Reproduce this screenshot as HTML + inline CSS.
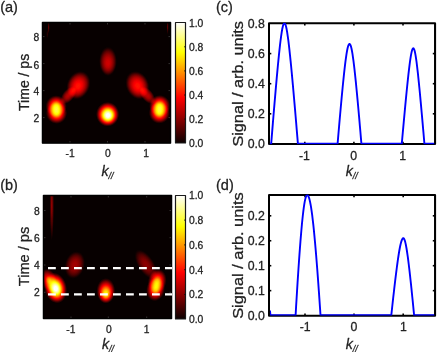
<!DOCTYPE html>
<html><head><meta charset="utf-8"><title>figure</title>
<style>html,body{margin:0;padding:0;background:#fff;overflow:hidden}svg{display:block;will-change:transform}text{stroke:#222;stroke-width:0.28px}</style></head>
<body>
<svg width="437" height="352" viewBox="0 0 437 352" font-family='"Liberation Sans", Arial, sans-serif' stroke-linejoin="round">
<rect width="437" height="352" fill="#fff"/>
<defs>
<filter id='hot' x='0' y='0' width='100%' height='100%' filterUnits='objectBoundingBox' color-interpolation-filters='sRGB'>
<feComponentTransfer>
<feFuncR type='table' tableValues='0 0.3333 0.6667 1 1 1 1 1 1'/>
<feFuncG type='table' tableValues='0 0 0 0 0.3333 0.6667 1 1 1'/>
<feFuncB type='table' tableValues='0 0 0 0 0 0 0 0.5 1'/>
</feComponentTransfer></filter>
<linearGradient id='cb' x1='0' y1='1' x2='0' y2='0'>
<stop offset='0' stop-color='#0a0000'/><stop offset='0.375' stop-color='#ff0000'/><stop offset='0.75' stop-color='#ffff00'/><stop offset='1' stop-color='#ffffff'/></linearGradient>
<radialGradient id='g1' cx='0' cy='0' fx='0.04' fy='0.12' r='1.06' gradientUnits='userSpaceOnUse'><stop offset='0.000' stop-color='#fff' stop-opacity='1.0000'/><stop offset='0.142' stop-color='#fff' stop-opacity='1.0000'/><stop offset='0.283' stop-color='#fff' stop-opacity='0.8858'/><stop offset='0.425' stop-color='#fff' stop-opacity='0.7107'/><stop offset='0.566' stop-color='#fff' stop-opacity='0.5150'/><stop offset='0.755' stop-color='#fff' stop-opacity='0.2678'/><stop offset='0.901' stop-color='#fff' stop-opacity='0.0824'/><stop offset='1.000' stop-color='#fff' stop-opacity='0.0000'/></radialGradient>
<radialGradient id='g2' cx='0' cy='0' fx='0' fy='0' r='1.06' gradientUnits='userSpaceOnUse'><stop offset='0.000' stop-color='#fff' stop-opacity='0.6800'/><stop offset='0.142' stop-color='#fff' stop-opacity='0.6664'/><stop offset='0.283' stop-color='#fff' stop-opacity='0.5848'/><stop offset='0.425' stop-color='#fff' stop-opacity='0.4692'/><stop offset='0.566' stop-color='#fff' stop-opacity='0.3400'/><stop offset='0.755' stop-color='#fff' stop-opacity='0.1768'/><stop offset='0.901' stop-color='#fff' stop-opacity='0.0544'/><stop offset='1.000' stop-color='#fff' stop-opacity='0.0000'/></radialGradient>
<radialGradient id='g3' cx='0' cy='0' fx='0' fy='0' r='1.06' gradientUnits='userSpaceOnUse'><stop offset='0.000' stop-color='#fff' stop-opacity='0.6800'/><stop offset='0.142' stop-color='#fff' stop-opacity='0.6664'/><stop offset='0.283' stop-color='#fff' stop-opacity='0.5848'/><stop offset='0.425' stop-color='#fff' stop-opacity='0.4692'/><stop offset='0.566' stop-color='#fff' stop-opacity='0.3400'/><stop offset='0.755' stop-color='#fff' stop-opacity='0.1768'/><stop offset='0.901' stop-color='#fff' stop-opacity='0.0544'/><stop offset='1.000' stop-color='#fff' stop-opacity='0.0000'/></radialGradient>
<radialGradient id='g4' cx='0' cy='0' fx='0' fy='0' r='1.06' gradientUnits='userSpaceOnUse'><stop offset='0.000' stop-color='#fff' stop-opacity='0.6800'/><stop offset='0.142' stop-color='#fff' stop-opacity='0.6664'/><stop offset='0.283' stop-color='#fff' stop-opacity='0.5848'/><stop offset='0.425' stop-color='#fff' stop-opacity='0.4692'/><stop offset='0.566' stop-color='#fff' stop-opacity='0.3400'/><stop offset='0.755' stop-color='#fff' stop-opacity='0.1768'/><stop offset='0.901' stop-color='#fff' stop-opacity='0.0544'/><stop offset='1.000' stop-color='#fff' stop-opacity='0.0000'/></radialGradient>
<radialGradient id='g5' cx='0' cy='0' fx='0' fy='0' r='1.06' gradientUnits='userSpaceOnUse'><stop offset='0.000' stop-color='#fff' stop-opacity='0.6800'/><stop offset='0.142' stop-color='#fff' stop-opacity='0.6664'/><stop offset='0.283' stop-color='#fff' stop-opacity='0.5848'/><stop offset='0.425' stop-color='#fff' stop-opacity='0.4692'/><stop offset='0.566' stop-color='#fff' stop-opacity='0.3400'/><stop offset='0.755' stop-color='#fff' stop-opacity='0.1768'/><stop offset='0.901' stop-color='#fff' stop-opacity='0.0544'/><stop offset='1.000' stop-color='#fff' stop-opacity='0.0000'/></radialGradient>
<radialGradient id='g6' cx='0' cy='0' fx='0' fy='0.08' r='1.06' gradientUnits='userSpaceOnUse'><stop offset='0.000' stop-color='#fff' stop-opacity='0.4000'/><stop offset='0.189' stop-color='#fff' stop-opacity='0.3840'/><stop offset='0.377' stop-color='#fff' stop-opacity='0.3360'/><stop offset='0.566' stop-color='#fff' stop-opacity='0.2560'/><stop offset='0.708' stop-color='#fff' stop-opacity='0.1760'/><stop offset='0.830' stop-color='#fff' stop-opacity='0.0920'/><stop offset='0.915' stop-color='#fff' stop-opacity='0.0320'/><stop offset='1.000' stop-color='#fff' stop-opacity='0.0000'/></radialGradient>
<radialGradient id='g7' cx='0' cy='0' fx='0' fy='0' r='1.06' gradientUnits='userSpaceOnUse'><stop offset='0.000' stop-color='#fff' stop-opacity='0.2700'/><stop offset='0.189' stop-color='#fff' stop-opacity='0.2592'/><stop offset='0.377' stop-color='#fff' stop-opacity='0.2268'/><stop offset='0.566' stop-color='#fff' stop-opacity='0.1728'/><stop offset='0.708' stop-color='#fff' stop-opacity='0.1188'/><stop offset='0.830' stop-color='#fff' stop-opacity='0.0621'/><stop offset='0.915' stop-color='#fff' stop-opacity='0.0216'/><stop offset='1.000' stop-color='#fff' stop-opacity='0.0000'/></radialGradient>
<radialGradient id='g8' cx='0' cy='0' fx='0' fy='0.08' r='1.06' gradientUnits='userSpaceOnUse'><stop offset='0.000' stop-color='#fff' stop-opacity='0.4000'/><stop offset='0.189' stop-color='#fff' stop-opacity='0.3840'/><stop offset='0.377' stop-color='#fff' stop-opacity='0.3360'/><stop offset='0.566' stop-color='#fff' stop-opacity='0.2560'/><stop offset='0.708' stop-color='#fff' stop-opacity='0.1760'/><stop offset='0.830' stop-color='#fff' stop-opacity='0.0920'/><stop offset='0.915' stop-color='#fff' stop-opacity='0.0320'/><stop offset='1.000' stop-color='#fff' stop-opacity='0.0000'/></radialGradient>
<radialGradient id='g9' cx='0' cy='0' fx='0' fy='0' r='1.06' gradientUnits='userSpaceOnUse'><stop offset='0.000' stop-color='#fff' stop-opacity='0.2700'/><stop offset='0.189' stop-color='#fff' stop-opacity='0.2592'/><stop offset='0.377' stop-color='#fff' stop-opacity='0.2268'/><stop offset='0.566' stop-color='#fff' stop-opacity='0.1728'/><stop offset='0.708' stop-color='#fff' stop-opacity='0.1188'/><stop offset='0.830' stop-color='#fff' stop-opacity='0.0621'/><stop offset='0.915' stop-color='#fff' stop-opacity='0.0216'/><stop offset='1.000' stop-color='#fff' stop-opacity='0.0000'/></radialGradient>
<radialGradient id='g10' cx='0' cy='0' fx='0' fy='0.15' r='1.06' gradientUnits='userSpaceOnUse'><stop offset='0.000' stop-color='#fff' stop-opacity='0.3000'/><stop offset='0.189' stop-color='#fff' stop-opacity='0.2880'/><stop offset='0.377' stop-color='#fff' stop-opacity='0.2520'/><stop offset='0.566' stop-color='#fff' stop-opacity='0.1920'/><stop offset='0.708' stop-color='#fff' stop-opacity='0.1320'/><stop offset='0.830' stop-color='#fff' stop-opacity='0.0690'/><stop offset='0.915' stop-color='#fff' stop-opacity='0.0240'/><stop offset='1.000' stop-color='#fff' stop-opacity='0.0000'/></radialGradient>
<radialGradient id='g11' cx='0' cy='0' fx='0' fy='0' r='1.06' gradientUnits='userSpaceOnUse'><stop offset='0.000' stop-color='#fff' stop-opacity='0.1500'/><stop offset='0.113' stop-color='#fff' stop-opacity='0.1477'/><stop offset='0.236' stop-color='#fff' stop-opacity='0.1290'/><stop offset='0.387' stop-color='#fff' stop-opacity='0.0960'/><stop offset='0.566' stop-color='#fff' stop-opacity='0.0683'/><stop offset='0.755' stop-color='#fff' stop-opacity='0.0367'/><stop offset='0.901' stop-color='#fff' stop-opacity='0.0120'/><stop offset='1.000' stop-color='#fff' stop-opacity='0.0000'/></radialGradient>
<radialGradient id='g12' cx='0' cy='0' fx='0' fy='0' r='1.06' gradientUnits='userSpaceOnUse'><stop offset='0.000' stop-color='#fff' stop-opacity='0.0700'/><stop offset='0.113' stop-color='#fff' stop-opacity='0.0690'/><stop offset='0.236' stop-color='#fff' stop-opacity='0.0602'/><stop offset='0.387' stop-color='#fff' stop-opacity='0.0448'/><stop offset='0.566' stop-color='#fff' stop-opacity='0.0319'/><stop offset='0.755' stop-color='#fff' stop-opacity='0.0172'/><stop offset='0.901' stop-color='#fff' stop-opacity='0.0056'/><stop offset='1.000' stop-color='#fff' stop-opacity='0.0000'/></radialGradient>
<radialGradient id='g13' cx='0' cy='0' fx='0' fy='0' r='1.06' gradientUnits='userSpaceOnUse'><stop offset='0.000' stop-color='#fff' stop-opacity='0.1300'/><stop offset='0.113' stop-color='#fff' stop-opacity='0.1280'/><stop offset='0.236' stop-color='#fff' stop-opacity='0.1118'/><stop offset='0.387' stop-color='#fff' stop-opacity='0.0832'/><stop offset='0.566' stop-color='#fff' stop-opacity='0.0592'/><stop offset='0.755' stop-color='#fff' stop-opacity='0.0319'/><stop offset='0.901' stop-color='#fff' stop-opacity='0.0104'/><stop offset='1.000' stop-color='#fff' stop-opacity='0.0000'/></radialGradient>
<radialGradient id='g14' cx='0' cy='0' fx='0' fy='0.05' r='1.06' gradientUnits='userSpaceOnUse'><stop offset='0.000' stop-color='#fff' stop-opacity='1.0000'/><stop offset='0.142' stop-color='#fff' stop-opacity='0.9996'/><stop offset='0.283' stop-color='#fff' stop-opacity='0.8772'/><stop offset='0.425' stop-color='#fff' stop-opacity='0.7038'/><stop offset='0.566' stop-color='#fff' stop-opacity='0.5100'/><stop offset='0.755' stop-color='#fff' stop-opacity='0.2652'/><stop offset='0.901' stop-color='#fff' stop-opacity='0.0816'/><stop offset='1.000' stop-color='#fff' stop-opacity='0.0000'/></radialGradient>
<radialGradient id='g15' cx='0' cy='0' fx='0' fy='0' r='1.06' gradientUnits='userSpaceOnUse'><stop offset='0.000' stop-color='#fff' stop-opacity='0.5000'/><stop offset='0.113' stop-color='#fff' stop-opacity='0.4925'/><stop offset='0.236' stop-color='#fff' stop-opacity='0.4300'/><stop offset='0.387' stop-color='#fff' stop-opacity='0.3200'/><stop offset='0.566' stop-color='#fff' stop-opacity='0.2275'/><stop offset='0.755' stop-color='#fff' stop-opacity='0.1225'/><stop offset='0.901' stop-color='#fff' stop-opacity='0.0400'/><stop offset='1.000' stop-color='#fff' stop-opacity='0.0000'/></radialGradient>
<radialGradient id='g16' cx='0' cy='0' fx='0' fy='0' r='1.06' gradientUnits='userSpaceOnUse'><stop offset='0.000' stop-color='#fff' stop-opacity='0.2350'/><stop offset='0.189' stop-color='#fff' stop-opacity='0.2256'/><stop offset='0.377' stop-color='#fff' stop-opacity='0.1974'/><stop offset='0.566' stop-color='#fff' stop-opacity='0.1504'/><stop offset='0.708' stop-color='#fff' stop-opacity='0.1034'/><stop offset='0.830' stop-color='#fff' stop-opacity='0.0541'/><stop offset='0.915' stop-color='#fff' stop-opacity='0.0188'/><stop offset='1.000' stop-color='#fff' stop-opacity='0.0000'/></radialGradient>
<radialGradient id='g17' cx='0' cy='0' fx='0' fy='0.28' r='1.06' gradientUnits='userSpaceOnUse'><stop offset='0.000' stop-color='#fff' stop-opacity='0.7400'/><stop offset='0.142' stop-color='#fff' stop-opacity='0.7252'/><stop offset='0.283' stop-color='#fff' stop-opacity='0.6364'/><stop offset='0.425' stop-color='#fff' stop-opacity='0.5106'/><stop offset='0.566' stop-color='#fff' stop-opacity='0.3700'/><stop offset='0.755' stop-color='#fff' stop-opacity='0.1924'/><stop offset='0.901' stop-color='#fff' stop-opacity='0.0592'/><stop offset='1.000' stop-color='#fff' stop-opacity='0.0000'/></radialGradient>
<radialGradient id='g18' cx='0' cy='0' fx='0' fy='0' r='1.06' gradientUnits='userSpaceOnUse'><stop offset='0.000' stop-color='#fff' stop-opacity='0.6000'/><stop offset='0.142' stop-color='#fff' stop-opacity='0.5880'/><stop offset='0.283' stop-color='#fff' stop-opacity='0.5160'/><stop offset='0.425' stop-color='#fff' stop-opacity='0.4140'/><stop offset='0.566' stop-color='#fff' stop-opacity='0.3000'/><stop offset='0.755' stop-color='#fff' stop-opacity='0.1560'/><stop offset='0.901' stop-color='#fff' stop-opacity='0.0480'/><stop offset='1.000' stop-color='#fff' stop-opacity='0.0000'/></radialGradient>
<radialGradient id='g19' cx='0' cy='0' fx='0' fy='0' r='1.06' gradientUnits='userSpaceOnUse'><stop offset='0.000' stop-color='#fff' stop-opacity='0.6200'/><stop offset='0.142' stop-color='#fff' stop-opacity='0.6076'/><stop offset='0.283' stop-color='#fff' stop-opacity='0.5332'/><stop offset='0.425' stop-color='#fff' stop-opacity='0.4278'/><stop offset='0.566' stop-color='#fff' stop-opacity='0.3100'/><stop offset='0.755' stop-color='#fff' stop-opacity='0.1612'/><stop offset='0.901' stop-color='#fff' stop-opacity='0.0496'/><stop offset='1.000' stop-color='#fff' stop-opacity='0.0000'/></radialGradient>
<radialGradient id='g20' cx='0' cy='0' fx='0' fy='0' r='1.06' gradientUnits='userSpaceOnUse'><stop offset='0.000' stop-color='#fff' stop-opacity='0.2000'/><stop offset='0.189' stop-color='#fff' stop-opacity='0.1920'/><stop offset='0.377' stop-color='#fff' stop-opacity='0.1680'/><stop offset='0.566' stop-color='#fff' stop-opacity='0.1280'/><stop offset='0.708' stop-color='#fff' stop-opacity='0.0880'/><stop offset='0.830' stop-color='#fff' stop-opacity='0.0460'/><stop offset='0.915' stop-color='#fff' stop-opacity='0.0160'/><stop offset='1.000' stop-color='#fff' stop-opacity='0.0000'/></radialGradient>
<radialGradient id='g21' cx='0' cy='0' fx='0' fy='0' r='1.06' gradientUnits='userSpaceOnUse'><stop offset='0.000' stop-color='#fff' stop-opacity='0.2100'/><stop offset='0.113' stop-color='#fff' stop-opacity='0.2068'/><stop offset='0.236' stop-color='#fff' stop-opacity='0.1806'/><stop offset='0.387' stop-color='#fff' stop-opacity='0.1344'/><stop offset='0.566' stop-color='#fff' stop-opacity='0.0955'/><stop offset='0.755' stop-color='#fff' stop-opacity='0.0514'/><stop offset='0.901' stop-color='#fff' stop-opacity='0.0168'/><stop offset='1.000' stop-color='#fff' stop-opacity='0.0000'/></radialGradient>
</defs>
<clipPath id='ca'><rect x='42' y='22' width='129' height='121.5'/></clipPath><g filter='url(#hot)' clip-path='url(#ca)'><rect x='42' y='22' width='129' height='121.5' fill='#030303'/><circle r='1.06' fill='url(#g1)' transform='translate(107.6 114.2) rotate(0) scale(10.9 11.6)'/><circle r='1.06' fill='url(#g2)' transform='translate(56.2 106.3) rotate(-3) scale(10 10.4)'/><circle r='1.06' fill='url(#g3)' transform='translate(56.5 112.9) rotate(-3) scale(10 10.4)'/><circle r='1.06' fill='url(#g4)' transform='translate(159.7 106) rotate(3) scale(10 10.4)'/><circle r='1.06' fill='url(#g5)' transform='translate(159.4 112.6) rotate(3) scale(10 10.4)'/><circle r='1.06' fill='url(#g6)' transform='translate(78.4 85.2) rotate(24) scale(10.8 13.8)'/><circle r='1.06' fill='url(#g7)' transform='translate(68.6 95.2) rotate(40) scale(5.6 10)'/><circle r='1.06' fill='url(#g8)' transform='translate(137.4 85.2) rotate(-24) scale(10.8 13.8)'/><circle r='1.06' fill='url(#g9)' transform='translate(147.2 95.2) rotate(-40) scale(5.6 10)'/><circle r='1.06' fill='url(#g10)' transform='translate(108 61.3) rotate(0) scale(8.4 13.8)'/><circle r='1.06' fill='url(#g11)' transform='translate(48.7 27.5) rotate(0) scale(1 6)'/><circle r='1.06' fill='url(#g12)' transform='translate(47.2 34) rotate(0) scale(0.9 4.5)'/><circle r='1.06' fill='url(#g13)' transform='translate(167.6 27) rotate(0) scale(1.1 7)'/></g><rect x='42.5' y='22.5' width='128' height='120.5' fill='none' stroke='#000' stroke-width='1.5'/>
<rect x='175.5' y='22.5' width='10' height='120.5' fill='url(#cb)' stroke='#1a1a1a' stroke-width='1.2'/>
<g stroke='#999' stroke-width='0.8' opacity='0.4'><line x1='70' y1='142.5' x2='70' y2='141'/><line x1='70' y1='23' x2='70' y2='24.5'/><line x1='107.5' y1='142.5' x2='107.5' y2='141'/><line x1='107.5' y1='23' x2='107.5' y2='24.5'/><line x1='145' y1='142.5' x2='145' y2='141'/><line x1='145' y1='23' x2='145' y2='24.5'/><line x1='43' y1='36.6' x2='44.5' y2='36.6'/><line x1='170' y1='36.6' x2='168.5' y2='36.6'/><line x1='43' y1='63.6' x2='44.5' y2='63.6'/><line x1='170' y1='63.6' x2='168.5' y2='63.6'/><line x1='43' y1='90.6' x2='44.5' y2='90.6'/><line x1='170' y1='90.6' x2='168.5' y2='90.6'/><line x1='43' y1='117.6' x2='44.5' y2='117.6'/><line x1='170' y1='117.6' x2='168.5' y2='117.6'/></g>
<text x='70.1' y='156.9' font-size='10.3' text-anchor='middle' fill='#222' >-1</text>
<text x='107.8' y='156.9' font-size='10.3' text-anchor='middle' fill='#222' >0</text>
<text x='146.1' y='156.9' font-size='10.3' text-anchor='middle' fill='#222' >1</text>
<text x='39.2' y='41.4' font-size='10.3' text-anchor='end' fill='#222' >8</text>
<text x='39.2' y='68.7' font-size='10.3' text-anchor='end' fill='#222' >6</text>
<text x='39.2' y='95.4' font-size='10.3' text-anchor='end' fill='#222' >4</text>
<text x='39.2' y='122.3' font-size='10.3' text-anchor='end' fill='#222' >2</text>
<text x='189' y='147.1' font-size='10.3' text-anchor='start' fill='#222' >0.0</text>
<text x='189' y='123' font-size='10.3' text-anchor='start' fill='#222' >0.2</text>
<line x1='184' x2='186' y1='119.1' y2='119.1' stroke='#111' stroke-width='0.8'/>
<text x='189' y='98.9' font-size='10.3' text-anchor='start' fill='#222' >0.4</text>
<line x1='184' x2='186' y1='95' y2='95' stroke='#111' stroke-width='0.8'/>
<text x='189' y='74.8' font-size='10.3' text-anchor='start' fill='#222' >0.6</text>
<line x1='184' x2='186' y1='70.9' y2='70.9' stroke='#111' stroke-width='0.8'/>
<text x='189' y='50.7' font-size='10.3' text-anchor='start' fill='#222' >0.8</text>
<line x1='184' x2='186' y1='46.8' y2='46.8' stroke='#111' stroke-width='0.8'/>
<text x='189' y='26.6' font-size='10.3' text-anchor='start' fill='#222' >1.0</text>
<text transform='translate(28.6 82.4) rotate(-90)' font-size='14' text-anchor='middle' fill='#222' >Time / ps</text>
<text x='107.5' y='176' font-size='14.2' font-style='italic' text-anchor='middle' fill='#222'>k<tspan font-size='9' dy='3.2'>//</tspan></text>
<text x='0.2' y='12.1' font-size='14.5' text-anchor='start' fill='#222' >(a)</text>
<clipPath id='cb2'><rect x='43' y='195' width='129' height='124'/></clipPath><g filter='url(#hot)' clip-path='url(#cb2)'><rect x='43' y='195' width='129' height='124' fill='#030303'/><circle r='1.06' fill='url(#g14)' transform='translate(55.6 288) rotate(-12) scale(10.6 14.6)'/><circle r='1.06' fill='url(#g15)' transform='translate(48.6 280) rotate(-18) scale(7.6 11)'/><circle r='1.06' fill='url(#g16)' transform='translate(74.8 265) rotate(15) scale(9.4 13.2)'/><circle r='1.06' fill='url(#g17)' transform='translate(105.9 290.8) rotate(0) scale(8.8 12)'/><circle r='1.06' fill='url(#g18)' transform='translate(157.2 281.4) rotate(12) scale(8.8 11.8)'/><circle r='1.06' fill='url(#g19)' transform='translate(155.6 289.2) rotate(12) scale(8.8 11.4)'/><circle r='1.06' fill='url(#g20)' transform='translate(146 264.5) rotate(-33) scale(7.6 16)'/><circle r='1.06' fill='url(#g21)' transform='translate(51.8 205) rotate(0) scale(2.1 34)'/></g><rect x='43.5' y='195.5' width='128' height='123' fill='none' stroke='#000' stroke-width='1.5'/>
<rect x='175.5' y='195.5' width='10' height='123.5' fill='url(#cb)' stroke='#1a1a1a' stroke-width='1.2'/>
<g stroke='#999' stroke-width='0.8' opacity='0.4'><line x1='71' y1='318' x2='71' y2='316.5'/><line x1='71' y1='196' x2='71' y2='197.5'/><line x1='108.3' y1='318' x2='108.3' y2='316.5'/><line x1='108.3' y1='196' x2='108.3' y2='197.5'/><line x1='146.7' y1='318' x2='146.7' y2='316.5'/><line x1='146.7' y1='196' x2='146.7' y2='197.5'/><line x1='44' y1='210.5' x2='45.5' y2='210.5'/><line x1='171' y1='210.5' x2='169.5' y2='210.5'/><line x1='44' y1='237.7' x2='45.5' y2='237.7'/><line x1='171' y1='237.7' x2='169.5' y2='237.7'/><line x1='44' y1='265' x2='45.5' y2='265'/><line x1='171' y1='265' x2='169.5' y2='265'/><line x1='44' y1='292.3' x2='45.5' y2='292.3'/><line x1='171' y1='292.3' x2='169.5' y2='292.3'/></g>
<line x1='48' x2='172' y1='268.2' y2='268.2' stroke='#fff' stroke-width='2.2' stroke-dasharray='7.8 5.2'/>
<line x1='48' x2='172' y1='294.4' y2='294.4' stroke='#fff' stroke-width='2.2' stroke-dasharray='7.8 5.2'/>
<text x='70.9' y='333' font-size='10.3' text-anchor='middle' fill='#222' >-1</text>
<text x='108.9' y='333' font-size='10.3' text-anchor='middle' fill='#222' >0</text>
<text x='146.7' y='333' font-size='10.3' text-anchor='middle' fill='#222' >1</text>
<text x='39.8' y='214.5' font-size='10.3' text-anchor='end' fill='#222' >8</text>
<text x='39.8' y='241.5' font-size='10.3' text-anchor='end' fill='#222' >6</text>
<text x='39.8' y='269' font-size='10.3' text-anchor='end' fill='#222' >4</text>
<text x='39.8' y='296.1' font-size='10.3' text-anchor='end' fill='#222' >2</text>
<text x='189' y='323.2' font-size='10.3' text-anchor='start' fill='#222' >0.0</text>
<text x='189' y='298.4' font-size='10.3' text-anchor='start' fill='#222' >0.2</text>
<line x1='184' x2='186' y1='294.5' y2='294.5' stroke='#111' stroke-width='0.8'/>
<text x='189' y='273.6' font-size='10.3' text-anchor='start' fill='#222' >0.4</text>
<line x1='184' x2='186' y1='269.7' y2='269.7' stroke='#111' stroke-width='0.8'/>
<text x='189' y='248.8' font-size='10.3' text-anchor='start' fill='#222' >0.6</text>
<line x1='184' x2='186' y1='244.9' y2='244.9' stroke='#111' stroke-width='0.8'/>
<text x='189' y='224' font-size='10.3' text-anchor='start' fill='#222' >0.8</text>
<line x1='184' x2='186' y1='220.1' y2='220.1' stroke='#111' stroke-width='0.8'/>
<text x='189' y='199.2' font-size='10.3' text-anchor='start' fill='#222' >1.0</text>
<text transform='translate(28.7 256.5) rotate(-90)' font-size='14.6' text-anchor='middle' fill='#222' >Time / ps</text>
<text x='108' y='348.8' font-size='14.2' font-style='italic' text-anchor='middle' fill='#222'>k<tspan font-size='9' dy='3.2'>//</tspan></text>
<text x='0.2' y='190.3' font-size='14.5' text-anchor='start' fill='#222' >(b)</text>
<clipPath id='cc'><rect x='269' y='22.7' width='166.1' height='121.5'/></clipPath><rect x='269' y='23.3' width='166.1' height='120.75' fill='none' stroke='#000' stroke-width='1.9'/><g stroke='#000' stroke-width='1.6'><line x1='304.8' x2='304.8' y1='144.05' y2='141.75'/><line x1='304.8' x2='304.8' y1='23.3' y2='25.6'/><line x1='353.9' x2='353.9' y1='144.05' y2='141.75'/><line x1='353.9' x2='353.9' y1='23.3' y2='25.6'/><line x1='403' x2='403' y1='144.05' y2='141.75'/><line x1='403' x2='403' y1='23.3' y2='25.6'/><line x1='269' x2='271.3' y1='53.6' y2='53.6'/><line x1='435.1' x2='432.8' y1='53.6' y2='53.6'/><line x1='269' x2='271.3' y1='83.7' y2='83.7'/><line x1='435.1' x2='432.8' y1='83.7' y2='83.7'/><line x1='269' x2='271.3' y1='113.8' y2='113.8'/><line x1='435.1' x2='432.8' y1='113.8' y2='113.8'/></g><path d='M269 143.65L271.20 143.65L271.75 136.87L272.30 130.12L272.85 123.43L273.40 116.78L273.95 110.19L274.50 103.66L275.05 97.21L275.60 90.84L276.15 84.57L276.70 78.41L277.25 72.39L277.80 66.51L278.35 60.81L278.90 55.32L279.45 50.07L280.00 45.11L280.55 40.49L281.10 36.27L281.65 32.52L282.20 29.30L282.75 26.70L283.30 24.78L283.85 23.60L284.40 23.20L284.96 23.60L285.52 24.78L286.09 26.70L286.65 29.30L287.21 32.52L287.77 36.27L288.34 40.49L288.90 45.11L289.46 50.07L290.02 55.32L290.59 60.81L291.15 66.51L291.71 72.39L292.27 78.41L292.84 84.57L293.40 90.84L293.96 97.21L294.52 103.66L295.09 110.19L295.65 116.78L296.21 123.43L296.77 130.12L297.34 136.87L297.90 143.65L337.60 143.65L338.10 137.82L338.59 132.04L339.09 126.31L339.58 120.64L340.08 115.03L340.58 109.49L341.07 104.03L341.57 98.65L342.06 93.39L342.56 88.23L343.05 83.22L343.55 78.35L344.05 73.67L344.54 69.18L345.04 64.93L345.53 60.95L346.03 57.27L346.53 53.95L347.02 51.02L347.52 48.54L348.01 46.54L348.51 45.09L349.00 44.20L349.50 43.90L350.00 44.20L350.49 45.09L350.99 46.54L351.48 48.54L351.98 51.02L352.48 53.95L352.97 57.27L353.47 60.95L353.96 64.93L354.46 69.18L354.95 73.67L355.45 78.35L355.95 83.22L356.44 88.23L356.94 93.39L357.43 98.65L357.93 104.03L358.43 109.49L358.92 115.03L359.42 120.64L359.91 126.31L360.41 132.04L360.90 137.82L361.40 143.65L401.80 143.65L402.28 138.28L402.76 132.94L403.24 127.64L403.72 122.38L404.20 117.16L404.68 112.00L405.15 106.89L405.63 101.85L406.11 96.88L406.59 92.01L407.07 87.24L407.55 82.58L408.03 78.07L408.51 73.72L408.99 69.57L409.47 65.65L409.95 61.99L410.43 58.65L410.90 55.68L411.38 53.13L411.86 51.07L412.34 49.55L412.82 48.61L413.30 48.30L413.76 48.61L414.23 49.55L414.69 51.07L415.15 53.13L415.61 55.68L416.07 58.65L416.54 61.99L417.00 65.65L417.46 69.57L417.93 73.72L418.39 78.07L418.85 82.58L419.31 87.24L419.78 92.01L420.24 96.88L420.70 101.85L421.16 106.89L421.62 112.00L422.09 117.16L422.55 122.38L423.01 127.64L423.48 132.94L423.94 138.28L424.40 143.65L435.1 143.65' fill='none' stroke='#0000ff' stroke-width='1.9' stroke-linejoin='round' clip-path='url(#cc)'/><path d='M269 23.3V144.05M435.1 23.3V144.05' stroke='#000' stroke-width='1.9' fill='none'/>
<text x='304.4' y='159.6' font-size='12.3' text-anchor='middle' fill='#222' >-1</text>
<text x='353.6' y='159.6' font-size='12.3' text-anchor='middle' fill='#222' >0</text>
<text x='402.6' y='159.6' font-size='12.3' text-anchor='middle' fill='#222' >1</text>
<text x='264.8' y='148.3' font-size='12.3' text-anchor='end' fill='#222' >0.0</text>
<text x='264.8' y='118.3' font-size='12.3' text-anchor='end' fill='#222' >0.2</text>
<text x='264.8' y='88.3' font-size='12.3' text-anchor='end' fill='#222' >0.4</text>
<text x='264.8' y='58.3' font-size='12.3' text-anchor='end' fill='#222' >0.6</text>
<text x='264.8' y='28.3' font-size='12.3' text-anchor='end' fill='#222' >0.8</text>
<text transform='translate(242.5 83.85) rotate(-90)' font-size='15' text-anchor='middle' fill='#222' textLength='125.5' lengthAdjust='spacingAndGlyphs'>Signal / arb. units</text>
<text x='351.7' y='176' font-size='14.2' font-style='italic' text-anchor='middle' fill='#222'>k<tspan font-size='9' dy='3.2'>//</tspan></text>
<text x='216' y='12.1' font-size='14.5' text-anchor='start' fill='#222' >(c)</text>
<clipPath id='cd'><rect x='269' y='194.45' width='166.1' height='121.15'/></clipPath><rect x='269' y='195.05' width='166.1' height='120.7' fill='none' stroke='#000' stroke-width='1.9'/><g stroke='#000' stroke-width='1.6'><line x1='305' x2='305' y1='315.75' y2='313.45'/><line x1='305' x2='305' y1='195.05' y2='197.35'/><line x1='354' x2='354' y1='315.75' y2='313.45'/><line x1='354' x2='354' y1='195.05' y2='197.35'/><line x1='403.2' x2='403.2' y1='315.75' y2='313.45'/><line x1='403.2' x2='403.2' y1='195.05' y2='197.35'/><line x1='269' x2='271.3' y1='215.8' y2='215.8'/><line x1='435.1' x2='432.8' y1='215.8' y2='215.8'/><line x1='269' x2='271.3' y1='240.75' y2='240.75'/><line x1='435.1' x2='432.8' y1='240.75' y2='240.75'/><line x1='269' x2='271.3' y1='265.7' y2='265.7'/><line x1='435.1' x2='432.8' y1='265.7' y2='265.7'/><line x1='269' x2='271.3' y1='290.65' y2='290.65'/><line x1='435.1' x2='432.8' y1='290.65' y2='290.65'/></g><path d='M270 310.5 L270.4 315.2L295.60 315.20L296.08 306.92L296.57 298.81L297.05 290.88L297.53 283.14L298.02 275.60L298.50 268.29L298.98 261.21L299.47 254.38L299.95 247.83L300.43 241.56L300.92 235.60L301.40 229.97L301.88 224.68L302.37 219.77L302.85 215.24L303.33 211.12L303.82 207.44L304.30 204.20L304.78 201.42L305.27 199.13L305.75 197.33L306.23 196.04L306.72 195.26L307.20 195.00L307.75 195.26L308.31 196.04L308.86 197.33L309.42 199.13L309.97 201.42L310.52 204.20L311.08 207.44L311.63 211.12L312.19 215.24L312.74 219.77L313.30 224.68L313.85 229.97L314.40 235.60L314.96 241.56L315.51 247.83L316.07 254.38L316.62 261.21L317.18 268.29L317.73 275.60L318.28 283.14L318.84 290.88L319.39 298.81L319.95 306.92L320.50 315.20L391.30 315.20L391.80 310.58L392.30 306.00L392.80 301.46L393.30 296.98L393.80 292.56L394.30 288.21L394.80 283.93L395.30 279.73L395.80 275.63L396.30 271.63L396.80 267.75L397.30 264.00L397.80 260.41L398.30 256.99L398.80 253.77L399.30 250.77L399.80 248.02L400.30 245.55L400.80 243.39L401.30 241.57L401.80 240.12L402.30 239.06L402.80 238.42L403.30 238.20L403.75 238.42L404.20 239.06L404.65 240.12L405.10 241.57L405.55 243.39L406.00 245.55L406.45 248.02L406.90 250.77L407.35 253.77L407.80 256.99L408.25 260.41L408.70 264.00L409.15 267.75L409.60 271.63L410.05 275.63L410.50 279.73L410.95 283.93L411.40 288.21L411.85 292.56L412.30 296.98L412.75 301.46L413.20 306.00L413.65 310.58L414.10 315.20L435.1 315.2' fill='none' stroke='#0000ff' stroke-width='1.9' stroke-linejoin='round' clip-path='url(#cd)'/><path d='M269 195.05V315.75M435.1 195.05V315.75' stroke='#000' stroke-width='1.9' fill='none'/>
<text x='305.2' y='331.4' font-size='12.3' text-anchor='middle' fill='#222' >-1</text>
<text x='354' y='331.4' font-size='12.3' text-anchor='middle' fill='#222' >0</text>
<text x='403.3' y='331.4' font-size='12.3' text-anchor='middle' fill='#222' >1</text>
<text x='264.8' y='320.1' font-size='12.3' text-anchor='end' fill='#222' >0.0</text>
<text x='264.8' y='295.15' font-size='12.3' text-anchor='end' fill='#222' >0.1</text>
<text x='264.8' y='270.2' font-size='12.3' text-anchor='end' fill='#222' >0.1</text>
<text x='264.8' y='245.25' font-size='12.3' text-anchor='end' fill='#222' >0.2</text>
<text x='264.8' y='220.3' font-size='12.3' text-anchor='end' fill='#222' >0.2</text>
<text transform='translate(242.8 255.55) rotate(-90)' font-size='15' text-anchor='middle' fill='#222' textLength='126.5' lengthAdjust='spacingAndGlyphs'>Signal / arb. units</text>
<text x='351.7' y='348.8' font-size='14.2' font-style='italic' text-anchor='middle' fill='#222'>k<tspan font-size='9' dy='3.2'>//</tspan></text>
<text x='216' y='190.3' font-size='14.5' text-anchor='start' fill='#222' >(d)</text>
</svg>
</body></html>
